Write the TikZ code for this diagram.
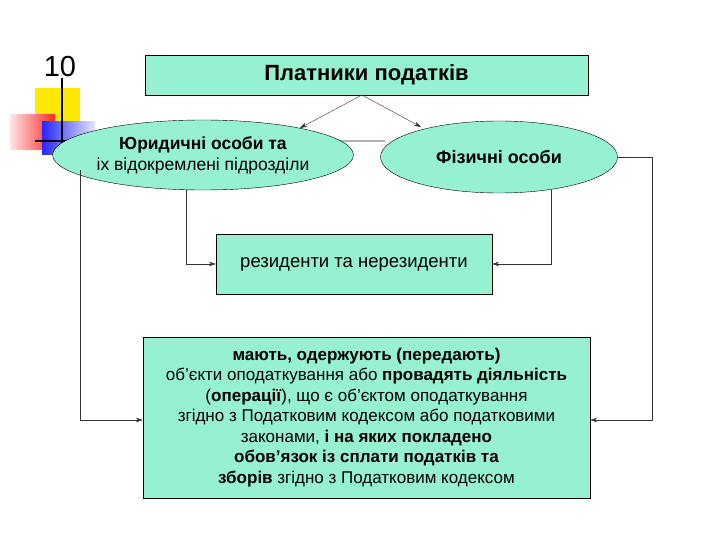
\documentclass[tikz,border=0pt]{standalone}
\usepackage{fontspec}
\setmainfont{Liberation Sans}
\usetikzlibrary{shapes.geometric,arrows.meta}
\definecolor{aqua}{RGB}{150,240,210}
\tikzset{box/.style={draw=black,fill=aqua,align=center,inner sep=0pt},
 conn/.style={draw=black!80,-{Stealth[length=7pt,width=4.5pt]}},
 ln/.style={draw=black!70}}
\begin{document}
\begin{tikzpicture}[x=1pt,y=-1pt]
\useasboundingbox (0,0) rectangle (720,540);
% logo
\fill[yellow!90!orange] (35,88) rectangle (80,130);
\shade[left color=red!10,right color=red!85] (10,115) rectangle (55,150);
\shade[left color=blue!85,right color=blue!10] (42,122) rectangle (95,155);
\draw[line width=1.5pt] (62,78) -- (62,162);
\draw[line width=1.5pt] (35,141) -- (100,141);
\node[font=\fontsize{29}{30}\selectfont] (num) at (60,67) {10};
% nodes
\node[box,minimum width=443,minimum height=40,font=\bfseries\fontsize{22}{24}\selectfont] (top) at (366.5,75) {Платники податків};
\draw[gray!60,line width=2pt] (330,141) -- (385,141);
\node[box,ellipse,minimum width=262,minimum height=70,font=\fontsize{17.5}{21}\selectfont] (le) at (203,155) {\textbf{Юридичні особи та}\\іх відокремлені підрозділи};
\node[box,ellipse,minimum width=237,minimum height=72,font=\bfseries\fontsize{18}{20}\selectfont] (re) at (499,157) {Фізичні особи};
\node[box,minimum width=276,minimum height=60,font=\fontsize{18.5}{20}\selectfont] (mid) at (354,264) {резиденти та нерезиденти};
\node[box,minimum width=447,minimum height=161,font=\fontsize{17}{20.5}\selectfont] (bot) at (366.5,417.5) {\textbf{мають, одержують (передають)}\\об’єкти оподаткування або \textbf{провадять діяльність}\\(\textbf{операції}), що є об’єктом оподаткування\\згідно з Податковим кодексом або податковими\\законами, \textbf{і на яких покладено}\\\textbf{обов’язок із сплати податків та}\\\textbf{зборів} згідно з Податковим кодексом};
% connectors
\coordinate (tb) at (362,95);
\coordinate (lt) at (300,128);
\coordinate (rt) at (421,127);
\draw[conn] (tb) -- (lt);
\draw[conn] (tb) -- (rt);
\draw[conn] (186,190) |- (mid.west);
\draw[conn] (551,190) |- (mid.east);
\draw[conn] (80,170) |- (bot.west|-0,420);
\draw[conn] (re.east) -- (652,157) |- (bot.east|-0,420);
\end{tikzpicture}
\end{document}
